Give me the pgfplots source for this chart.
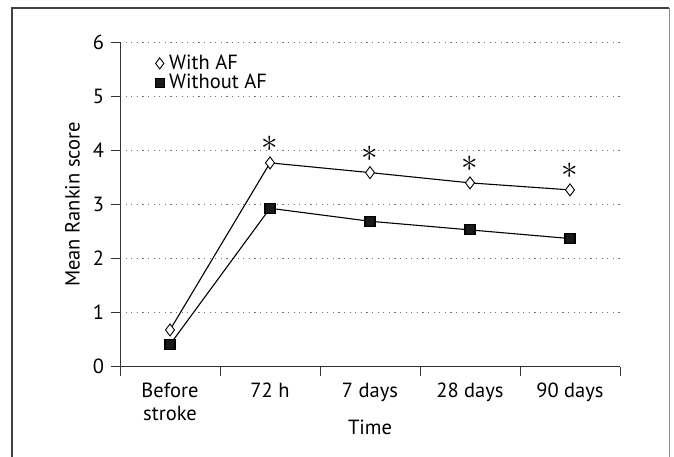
\documentclass[border=0pt]{standalone}
\usepackage{pgfplots}
\pgfplotsset{compat=1.18}
\usepackage{fontspec}
\setmainfont{PT Sans}
\begin{document}
\fontsize{20.5bp}{23bp}\selectfont
\begin{tikzpicture}
\useasboundingbox (0,0) rectangle (674bp,457bp);
\draw[line width=1.4bp, black!75] (12bp,0) -- (12bp,449bp) -- (669bp,449bp);
\draw[line width=0.8bp, black!45] (669bp,449bp) -- (669bp,0);
\begin{axis}[
  at={(120bp,90.3bp)}, anchor=south west,
  scale only axis, width=500bp, height=324.4bp,
  xmin=-0.5, xmax=4.5, ymin=0, ymax=6,
  axis x line=bottom, axis y line=left,
  axis line style={-, line width=0.9bp, black!80},
  xtick={0,1,2,3,4},
  xticklabels={{Before\\stroke},72 h,7 days,28 days,90 days},
  xticklabel style={align=center, text depth=0pt},
  major x tick style={draw=none},
  minor xtick={-0.5,0.5,1.5,2.5,3.5,4.5},
  minor tick length=9bp,
  minor x tick style={line width=0.9bp, black!80},
  ytick={0,1,2,3,4,5,6},
  major tick length=9bp,
  tick align=outside,
  y tick style={line width=0.9bp, black!80},
  ymajorgrids,
  grid style={line width=1.1bp, black!55, dash pattern=on 1.1bp off 4.5bp},
  /pgf/number format/assume math mode=true,
  xlabel={Time}, ylabel={Mean Rankin score},
  xlabel style={yshift=14bp},
  ylabel style={yshift=-1bp},
  legend style={at={(0.066,0.975)}, anchor=north west, draw=none, fill=none,
    row sep=-2bp, inner sep=2bp},
  legend cell align=left,
]
\addlegendimage{only marks, mark=diamond*, mark size=5.5bp, mark options={fill=white, draw=black, line width=0.9bp}}
\addlegendentry{\hspace{3bp}With AF}
\addlegendimage{only marks, mark=square*, mark size=4.5bp, mark options={fill=black!90, draw=black}}
\addlegendentry{\hspace{3bp}Without AF}
\addplot[forget plot, black, line width=1.1bp, mark=diamond*, mark size=6bp,
  mark options={fill=white, draw=black, line width=0.9bp}]
  coordinates {(0,0.68) (1,3.77) (2,3.59) (3,3.40) (4,3.27)};
\addplot[forget plot, black, line width=1.1bp, mark=square*, mark size=5bp,
  mark options={fill=black!90, draw=black}]
  coordinates {(0,0.41) (1,2.93) (2,2.69) (3,2.53) (4,2.37)};
\addplot[forget plot, draw=none, mark=none,
  nodes near coords={\scalebox{1.6}{$\ast$}},
  every node near coord/.style={anchor=center, yshift=19bp, black}]
  coordinates {(1,3.77) (2,3.59) (3,3.40) (4,3.27)};
\end{axis}
\end{tikzpicture}
\end{document}
